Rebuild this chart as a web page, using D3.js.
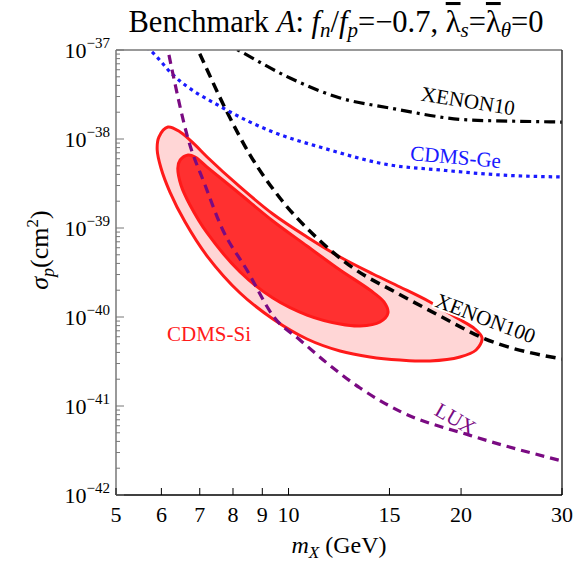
<!DOCTYPE html>
<html>
<head>
<meta charset="utf-8">
<script src="https://cdn.jsdelivr.net/npm/d3@7"></script>
<style>
  body { margin: 0; background: #fff; }
  svg text { font-family: 'Liberation Serif', serif; }
</style>
</head>
<body>
<svg id="drawing_region"></svg>
<script>
// tick values
const xTicks = [5, 6, 7, 8, 9, 10, 15, 20, 30];
const yDecades = [-42, -41, -40, -39, -38, -37];

// limit curves: [m_X in GeV, log10 sigma_p]
const xenon10 = [[7.69, -36.91], [8.16, -37.0], [10.06, -37.315], [12.30, -37.539], [15.03, -37.652],
  [20.73, -37.787], [27.46, -37.805], [30, -37.81]];
const xenon100 = [[6.81, -36.88], [6.95, -37.0], [7.81, -37.697], [8.57, -38.18], [9.66, -38.663],
  [11.21, -39.112], [12.96, -39.449], [15.46, -39.73], [18.38, -39.989], [21.84, -40.236], [30, -40.472]];
const cdmsGe = [[5.51, -36.92], [5.73, -37.0], [6.29, -37.281], [7.69, -37.652], [9.39, -37.921],
  [11.49, -38.101], [15.03, -38.292], [18.38, -38.348], [23.39, -38.404], [30, -38.427]];
const lux = [[6.11, -36.89], [6.16, -37.0], [6.29, -37.281], [6.68, -38.0], [7.15, -38.517], [7.65, -39.0],
  [8.46, -39.472], [9.43, -40.0], [10.47, -40.258], [11.67, -40.517], [13.33, -40.798],
  [15.65, -41.06], [20.73, -41.33], [30, -41.618]];

// CDMS-Si contours (closed)
const siOuter = [[5.90, -38.124], [5.94, -37.978], [6.16, -37.865], [6.47, -37.921], [6.87, -38.067],
  [7.21, -38.202], [8.23, -38.539], [9.39, -38.843], [10.77, -39.101], [12.30, -39.326], [14.04, -39.517],
  [15.65, -39.663], [17.65, -39.831], [19.68, -40.011], [21.15, -40.135], [21.76, -40.236], [21.24, -40.371],
  [19.91, -40.449], [17.65, -40.494], [15.65, -40.483], [13.87, -40.449], [12.30, -40.382], [10.77, -40.247],
  [9.39, -40.022], [8.23, -39.73], [7.21, -39.315], [6.60, -38.933], [6.21, -38.596], [5.99, -38.326]];
const siInner = [[6.41, -38.326], [6.47, -38.236], [6.68, -38.18], [6.87, -38.202], [7.21, -38.315],
  [8.23, -38.618], [9.39, -38.921], [10.77, -39.202], [12.30, -39.472], [13.87, -39.697], [14.67, -39.831],
  [14.91, -39.955], [14.44, -40.056], [13.33, -40.101], [12.30, -40.079], [10.77, -39.978], [9.39, -39.787],
  [8.23, -39.494], [7.21, -39.056], [6.73, -38.742], [6.49, -38.517]];

const config = {
  width: 576,
  height: 564,
  margin: { top: 50, right: 14, bottom: 69, left: 116 }
};

const svg = d3.select('#drawing_region')
  .attr('width', config.width)
  .attr('height', config.height);

const x0 = config.margin.left, x1 = config.width - config.margin.right;
const y0 = config.margin.top, y1 = config.height - config.margin.bottom;

const xscale = d3.scaleLog().domain([5, 30]).range([x0, x1]);
const yscale = d3.scaleLog().domain([1e-42, 1e-37]).range([y1, y0]);

svg.append('clipPath').attr('id', 'plotclip')
  .append('rect').attr('x', x0).attr('y', y0).attr('width', x1 - x0).attr('height', y1 - y0);

const plot = svg.append('g').attr('clip-path', 'url(#plotclip)');

const line = d3.line()
  .x(d => xscale(d[0]))
  .y(d => yscale(Math.pow(10, d[1])))
  .curve(d3.curveMonotoneX);
const closed = d3.line()
  .x(d => xscale(d[0]))
  .y(d => yscale(Math.pow(10, d[1])))
  .curve(d3.curveCatmullRomClosed);

// contours
plot.append('path').attr('d', closed(siOuter))
  .attr('fill', '#ffd6d6').attr('stroke', '#ff1a1a').attr('stroke-width', 3);
plot.append('path').attr('d', closed(siInner))
  .attr('fill', '#ff3030').attr('stroke', '#ff1a1a').attr('stroke-width', 3);

// limit curves
const curves = [
  { data: xenon10, color: '#000', dash: '11,5,3,5', w: 3.2 },
  { data: xenon100, color: '#000', dash: '10,6', w: 3.5 },
  { data: cdmsGe, color: '#1a1aff', dash: '3.5,4', w: 3.2 },
  { data: lux, color: '#7a0a82', dash: '9,6', w: 3.2 }
];
curves.forEach(c => {
  plot.append('path').attr('d', line(c.data))
    .attr('fill', 'none').attr('stroke', c.color)
    .attr('stroke-width', c.w).attr('stroke-dasharray', c.dash);
});

// curve labels
const labels = [
  { text: 'XENON10', x: 467, y: 108, rot: 9, color: '#000', bg: false },
  { text: 'CDMS-Ge', x: 455, y: 164, rot: 5, color: '#1a1aff', bg: false },
  { text: 'XENON100', x: 483, y: 325, rot: 21, color: '#000', bg: true },
  { text: 'LUX', x: 452, y: 425, rot: 30, color: '#7a0a82', bg: false },
  { text: 'CDMS-Si', x: 209, y: 341, rot: 0, color: '#ff1a1a', bg: false }
];
labels.forEach(l => {
  const g = svg.append('g').attr('transform', `translate(${l.x},${l.y}) rotate(${l.rot})`);
  const t = g.append('text').attr('text-anchor', 'middle')
    .attr('font-size', 21).attr('fill', l.color).text(l.text);
  if (l.bg) {
    const b = t.node().getBBox();
    g.insert('rect', 'text').attr('x', b.x - 2).attr('y', b.y + 3)
      .attr('width', b.width + 4).attr('height', b.height - 6).attr('fill', '#fff');
  }
});

// frame
svg.append('line').attr('x1', x0).attr('x2', x1).attr('y1', y0).attr('y2', y0)
  .attr('stroke', '#777').attr('stroke-width', 1.5);
svg.append('line').attr('x1', x1).attr('x2', x1).attr('y1', y0).attr('y2', y1)
  .attr('stroke', '#333').attr('stroke-width', 1.5);
svg.append('line').attr('x1', x0).attr('x2', x0).attr('y1', y0).attr('y2', y1)
  .attr('stroke', '#777').attr('stroke-width', 1.5);
svg.append('line').attr('x1', x0).attr('x2', x1).attr('y1', y1).attr('y2', y1)
  .attr('stroke', '#000').attr('stroke-width', 1.5);

// bottom ticks
const xg = svg.append('g');
xTicks.forEach(v => {
  const px = xscale(v);
  xg.append('line').attr('x1', px).attr('x2', px).attr('y1', y1).attr('y2', y1 - 7)
    .attr('stroke', '#000').attr('stroke-width', 1);
  xg.append('text').attr('x', px).attr('y', y1 + 27).attr('text-anchor', 'middle')
    .attr('font-size', 22).text(v);
});

// left ticks
const yg = svg.append('g');
yDecades.forEach(e => {
  const py = yscale(Math.pow(10, e));
  yg.append('line').attr('x1', x0).attr('x2', x0 + 8).attr('y1', py).attr('y2', py)
    .attr('stroke', '#777').attr('stroke-width', 1);
  if (e < -37) {
    for (let k = 2; k <= 9; k++) {
      const pm = yscale(k * Math.pow(10, e));
      yg.append('line').attr('x1', x0).attr('x2', x0 + 4).attr('y1', pm).attr('y2', pm)
        .attr('stroke', '#777').attr('stroke-width', 1);
    }
  }
  const t = yg.append('text').attr('x', x0 - 6).attr('y', py + 8)
    .attr('text-anchor', 'end').attr('font-size', 22);
  t.append('tspan').text('10');
  t.append('tspan').attr('dy', -10).attr('font-size', 15).text('\u2212' + Math.abs(e));
});

// title
const title = svg.append('text').attr('x', 336).attr('y', 32)
  .attr('text-anchor', 'middle').attr('font-size', 30.5);
title.append('tspan').text('Benchmark ');
title.append('tspan').attr('font-style', 'italic').text('A');
title.append('tspan').text(': ');
title.append('tspan').attr('font-style', 'italic').text('f');
title.append('tspan').attr('font-style', 'italic').attr('font-size', 21).attr('dy', 5).text('n');
title.append('tspan').attr('dy', -5).text('/');
title.append('tspan').attr('font-style', 'italic').text('f');
title.append('tspan').attr('font-style', 'italic').attr('font-size', 21).attr('dy', 5).text('p');
title.append('tspan').attr('dy', -5).text('=\u22120.7, ');
title.append('tspan').attr('text-decoration', 'overline').text('\u03bb');
title.append('tspan').attr('font-style', 'italic').attr('font-size', 21).attr('dy', 5).text('s');
title.append('tspan').attr('dy', -5).text('=');
title.append('tspan').attr('text-decoration', 'overline').text('\u03bb');
title.append('tspan').attr('font-style', 'italic').attr('font-size', 21).attr('dy', 5).text('\u03b8');
title.append('tspan').attr('dy', -5).text('=0');

// axis labels
const xl = svg.append('text').attr('x', 339).attr('y', 553)
  .attr('text-anchor', 'middle').attr('font-size', 24);
xl.append('tspan').attr('font-style', 'italic').text('m');
xl.append('tspan').attr('font-style', 'italic').attr('font-size', 17).attr('dy', 5).text('X');
xl.append('tspan').attr('dy', -5).text(' (GeV)');

const yl = svg.append('text').attr('transform', 'translate(48,250) rotate(-90)')
  .attr('text-anchor', 'middle').attr('font-size', 26);
yl.append('tspan').attr('font-style', 'italic').text('\u03c3');
yl.append('tspan').attr('font-style', 'italic').attr('font-size', 18).attr('dy', 6).text('p');
yl.append('tspan').attr('dy', -6).text('(cm');
yl.append('tspan').attr('font-size', 17).attr('dy', -10).text('2');
yl.append('tspan').attr('dy', 10).text(')');
</script>
</body>
</html>
